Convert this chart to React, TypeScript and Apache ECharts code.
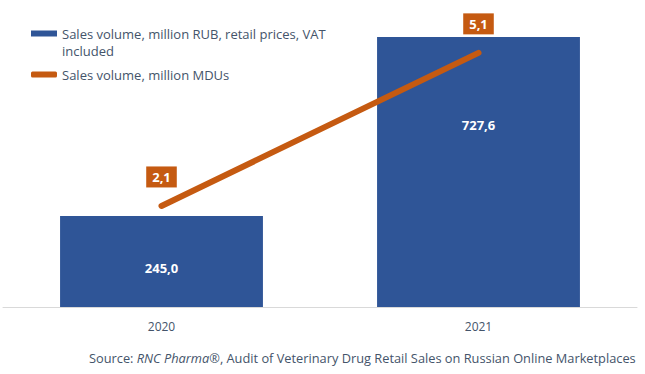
import React, { useEffect, useRef } from "react";
import * as echarts from "echarts";

const categories = ["2020", "2021"];
const salesRub = [245.0, 727.6];
const salesMdu = [2.1, 5.1];
const barName = "Sales volume, million RUB, retail prices, VAT included";
const lineName = "Sales volume, million MDUs";

const FONT = "'Open Sans', 'Noto Sans', sans-serif";
const fmt = (v: number) => v.toFixed(1).replace(".", ",");

export default function App() {
  const ref = useRef<HTMLDivElement>(null);
  useEffect(() => {
    if (!ref.current) return;
    document.body.style.margin = "0";
    document.body.style.overflow = "hidden";
    const chart = echarts.init(ref.current, null, { renderer: "svg" });
    chart.setOption({
      animation: false,
      textStyle: { fontFamily: FONT },
      grid: { left: 3, right: 8, top: 10, bottom: 67 },
      legend: {
        orient: "vertical",
        left: 31,
        top: 8,
        padding: 0,
        itemGap: 7,
        itemWidth: 26,
        itemHeight: 6,
        textStyle: { color: "#44546A", fontSize: 13, fontFamily: FONT, lineHeight: 17 },
        formatter: (n: string) => (n === barName ? " \nSales volume, million RUB, retail prices, VAT\nincluded" : n),
        data: [
          { name: barName, icon: "rect" },
          { name: lineName, icon: "roundRect" },
        ],
      },
      title: {
        left: 89,
        bottom: 10,
        padding: 0,
        text: "{n|Source: }{i|RNC Pharma®}{n|, Audit of Veterinary Drug Retail Sales on Russian Online Marketplaces}",
        textStyle: {
          fontWeight: "normal",
          rich: {
            n: { color: "#44546A", fontSize: 12.8, fontFamily: FONT, fontWeight: "normal" },
            i: { color: "#44546A", fontSize: 12.8, fontFamily: FONT, fontStyle: "italic", fontWeight: "normal" },
          },
        },
      },
      xAxis: {
        type: "category",
        data: categories,
        axisLine: { lineStyle: { color: "#D9D9D9", width: 1 } },
        axisTick: { show: false },
        axisLabel: { color: "#44546A", fontSize: 12, margin: 13 },
      },
      yAxis: [
        { type: "value", min: 0, max: 800, show: false, splitLine: { show: false } },
        { type: "value", min: 0.12, max: 5.94, show: false, splitLine: { show: false } },
      ],
      series: [
        {
          name: barName,
          type: "bar",
          barWidth: "64%",
          itemStyle: { color: "#2F5597" },
          data: salesRub.map((v, i) => ({
            value: v,
            label: { offset: i === 0 ? [0, 6] : [0, -47] },
          })),
          label: {
            show: true,
            position: "inside",
            color: "#FFFFFF",
            fontWeight: "bold",
            fontSize: 13,
            formatter: (p: any) => fmt(p.value),
          },
        },
        {
          name: lineName,
          type: "line",
          yAxisIndex: 1,
          data: salesMdu,
          symbol: "circle",
          symbolSize: 1,
          showSymbol: true,
          itemStyle: { color: "#C55A11" },
          lineStyle: { color: "#C55A11", width: 6, cap: "round" },
          label: {
            show: true,
            position: "top",
            distance: 18,
            backgroundColor: "#C55A11",
            color: "#FFFFFF",
            fontWeight: "bold",
            fontSize: 13,
            padding: [4, 6],
            formatter: (p: any) => fmt(p.value),
          },
        },
      ],
    });
    return () => chart.dispose();
  }, []);
  return <div ref={ref} style={{ width: 645, height: 374 }} />;
}
